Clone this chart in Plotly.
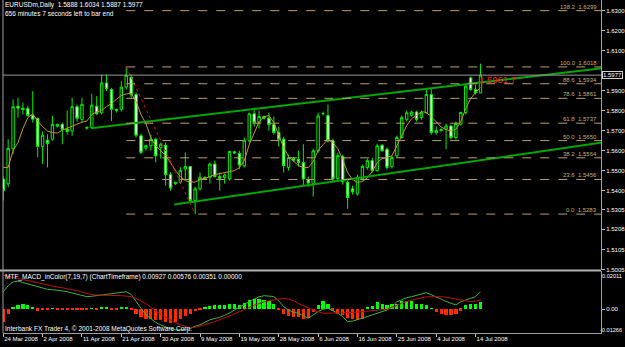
import plotly.graph_objects as go

W, H = 625, 347

dates = ["24 Mar 2008","25 Mar 2008","26 Mar 2008","27 Mar 2008","28 Mar 2008","30 Mar 2008","31 Mar 2008",
"1 Apr 2008","2 Apr 2008","3 Apr 2008","4 Apr 2008","6 Apr 2008","7 Apr 2008","8 Apr 2008","9 Apr 2008","10 Apr 2008",
"11 Apr 2008","13 Apr 2008","14 Apr 2008","15 Apr 2008","16 Apr 2008","17 Apr 2008","18 Apr 2008","20 Apr 2008",
"21 Apr 2008","22 Apr 2008","23 Apr 2008","24 Apr 2008","25 Apr 2008","27 Apr 2008","28 Apr 2008","29 Apr 2008",
"30 Apr 2008","1 May 2008","2 May 2008","4 May 2008","5 May 2008","6 May 2008","7 May 2008","8 May 2008",
"9 May 2008","11 May 2008","12 May 2008","13 May 2008","14 May 2008","15 May 2008","16 May 2008","18 May 2008",
"19 May 2008","20 May 2008","21 May 2008","22 May 2008","23 May 2008","25 May 2008","26 May 2008","27 May 2008",
"28 May 2008","29 May 2008","30 May 2008","1 Jun 2008","2 Jun 2008","3 Jun 2008","4 Jun 2008","5 Jun 2008",
"6 Jun 2008","8 Jun 2008","9 Jun 2008","10 Jun 2008","11 Jun 2008","12 Jun 2008","13 Jun 2008","15 Jun 2008",
"16 Jun 2008","17 Jun 2008","18 Jun 2008","19 Jun 2008","20 Jun 2008","22 Jun 2008","23 Jun 2008","24 Jun 2008",
"25 Jun 2008","26 Jun 2008","27 Jun 2008","29 Jun 2008","30 Jun 2008","1 Jul 2008","2 Jul 2008","3 Jul 2008",
"4 Jul 2008","6 Jul 2008","7 Jul 2008","8 Jul 2008","9 Jul 2008","10 Jul 2008","11 Jul 2008","13 Jul 2008",
"14 Jul 2008","15 Jul 2008"]

opens = [1.5458,1.5434,1.5611,1.5822,1.5812,1.5810,1.5775,1.5761,1.5621,1.5652,1.5657,1.5722,1.5731,1.5707,1.5698,1.5819,
1.5756,1.5712,1.5715,1.5822,1.5789,1.5938,1.5905,1.5800,1.5806,1.5917,1.5966,1.5880,1.5674,1.5612,1.5624,1.5657,
1.5615,1.5627,1.5480,1.5435,1.5442,1.5508,1.5521,1.5351,1.5409,1.5460,1.5467,1.5533,1.5470,1.5465,1.5458,1.5594,
1.5586,1.5524,1.5649,1.5784,1.5740,1.5770,1.5762,1.5730,1.5690,1.5657,1.5516,1.5560,1.5557,1.5541,1.5455,1.5434,
1.5599,1.5785,1.5775,1.5649,1.5460,1.5570,1.5442,1.5409,1.5384,1.5458,1.5516,1.5550,1.5500,1.5627,1.5607,1.5521,
1.5574,1.5665,1.5756,1.5776,1.5793,1.5765,1.5790,1.5880,1.5690,1.5700,1.5707,1.5723,1.5665,1.5732,1.5790,1.5963,
1.5905,1.5888]
highs = [1.5470,1.5657,1.5856,1.5864,1.5840,1.5825,1.5897,1.5765,1.5695,1.5682,1.5773,1.5735,1.5740,1.5801,1.5864,1.5830,
1.5864,1.5720,1.5884,1.5872,1.5980,1.5980,1.5912,1.5810,1.5947,1.6018,1.5980,1.5890,1.5685,1.5630,1.5680,1.5665,
1.5640,1.5640,1.5492,1.5445,1.5517,1.5591,1.5521,1.5420,1.5491,1.5470,1.5541,1.5550,1.5491,1.5485,1.5600,1.5598,
1.5600,1.5665,1.5790,1.5815,1.5800,1.5775,1.5790,1.5770,1.5720,1.5670,1.5580,1.5568,1.5600,1.5632,1.5470,1.5610,
1.5790,1.5795,1.5830,1.5660,1.5590,1.5580,1.5450,1.5425,1.5480,1.5530,1.5560,1.5565,1.5635,1.5632,1.5615,1.5575,
1.5675,1.5775,1.5800,1.5800,1.5800,1.5800,1.5905,1.5914,1.5720,1.5712,1.5735,1.5730,1.5745,1.5795,1.5935,1.5970,
1.5930,1.6034]
lows = [1.5351,1.5417,1.5582,1.5765,1.5780,1.5770,1.5740,1.5566,1.5533,1.5516,1.5650,1.5715,1.5632,1.5680,1.5674,1.5745,
1.5740,1.5705,1.5710,1.5778,1.5780,1.5897,1.5748,1.5790,1.5795,1.5905,1.5864,1.5665,1.5582,1.5600,1.5600,1.5541,
1.5560,1.5425,1.5400,1.5428,1.5433,1.5458,1.5343,1.5283,1.5400,1.5452,1.5435,1.5467,1.5400,1.5435,1.5450,1.5584,
1.5508,1.5516,1.5640,1.5720,1.5710,1.5755,1.5700,1.5680,1.5620,1.5490,1.5500,1.5545,1.5520,1.5425,1.5420,1.5370,
1.5590,1.5775,1.5640,1.5440,1.5450,1.5430,1.5309,1.5380,1.5375,1.5450,1.5505,1.5490,1.5495,1.5595,1.5505,1.5510,
1.5565,1.5660,1.5745,1.5770,1.5745,1.5755,1.5785,1.5680,1.5680,1.5695,1.5607,1.5655,1.5655,1.5725,1.5780,1.5900,
1.5880,1.5887]
closes = [1.5400,1.5611,1.5819,1.5812,1.5805,1.5775,1.5757,1.5621,1.5677,1.5635,1.5731,1.5731,1.5707,1.5695,1.5819,1.5761,
1.5831,1.5716,1.5827,1.5784,1.5938,1.5909,1.5806,1.5805,1.5917,1.5976,1.5880,1.5677,1.5591,1.5625,1.5657,1.5574,
1.5632,1.5480,1.5414,1.5442,1.5500,1.5520,1.5351,1.5409,1.5467,1.5467,1.5533,1.5470,1.5462,1.5478,1.5596,1.5588,
1.5528,1.5652,1.5784,1.5740,1.5770,1.5762,1.5730,1.5690,1.5657,1.5525,1.5566,1.5552,1.5541,1.5458,1.5438,1.5599,
1.5773,1.5785,1.5649,1.5459,1.5575,1.5445,1.5365,1.5395,1.5467,1.5521,1.5550,1.5500,1.5624,1.5599,1.5516,1.5566,
1.5665,1.5765,1.5789,1.5793,1.5756,1.5789,1.5880,1.5690,1.5700,1.5705,1.5723,1.5665,1.5735,1.5790,1.5922,1.5905,
1.5889,1.5977]
ma_vals = [1.5516,1.5516,1.5600,1.5640,1.5710,1.5765,1.5784,1.5748,1.5720,1.5698,1.5690,1.5688,1.5702,1.5712,1.5725,1.5735,
1.5742,1.5748,1.5780,1.5795,1.5800,1.5820,1.5835,1.5856,1.5875,1.5883,1.5886,1.5845,1.5780,1.5735,1.5665,1.5625,
1.5600,1.5575,1.5540,1.5500,1.5470,1.5450,1.5443,1.5443,1.5455,1.5462,1.5470,1.5480,1.5485,1.5490,1.5495,1.5500,
1.5515,1.5550,1.5630,1.5690,1.5745,1.5770,1.5775,1.5740,1.5680,1.5615,1.5570,1.5545,1.5525,1.5516,1.5515,1.5545,
1.5600,1.5630,1.5655,1.5640,1.5610,1.5555,1.5490,1.5455,1.5442,1.5445,1.5465,1.5495,1.5540,1.5560,1.5566,1.5574,
1.5624,1.5675,1.5725,1.5760,1.5775,1.5795,1.5790,1.5770,1.5742,1.5718,1.5705,1.5698,1.5707,1.5745,1.5810,1.5860,
1.5890,1.5915]

# MACD (values x 0.001)
macd_main = [9.3,12.5,14.5,15.0,14.2,13.4,12.6,11.8,11.0,10.6,10.4,10.2,9.8,9.3,8.6,7.9,7.3,6.7,6.9,7.3,7.6,8.0,8.5,8.8,9.1,9.3,7.9,4.5,0.5,-3.0,-5.2,-7.0,
-8.3,-9.5,-10.4,-10.9,-11.0,-10.9,-10.2,-9.0,-8.3,-6.9,-5.6,-4.9,-4.3,-3.2,-2.0,-0.35,1.2,2.8,4.3,5.5,6.6,7.2,7.0,6.7,4.5,1.4,
-0.5,-1.6,-2.1,-3.5,-4.8,-3.0,-1.2,0.0,0.5,-0.8,-2.1,-4.0,-6.5,-6.3,-5.6,-4.8,-3.9,-3.0,-2.2,-1.3,-0.4,1.5,4.0,
5.0,6.2,6.7,7.5,8.3,8.8,7.7,6.7,5.4,4.1,3.2,2.3,4.0,5.0,5.9,6.7,9.27]
macd_signal = [18.1,17.5,16.9,16.4,15.8,15.2,14.6,14.1,13.5,13.0,12.4,11.8,11.4,11.1,10.4,9.8,9.1,8.4,7.8,7.6,7.6,7.6,7.6,7.4,7.2,7.0,6.7,5.8,4.6,3.0,1.0,-1.0,
-2.6,-4.2,-5.9,-7.2,-8.3,-9.3,-9.9,-9.6,-9.0,-8.3,-7.5,-6.6,-5.6,-4.8,-3.6,-2.5,-1.3,-0.35,1.0,2.1,3.2,3.9,4.5,5.0,5.6,5.8,
5.3,4.6,3.0,1.8,0.8,-0.4,-1.3,-2.1,-2.1,-2.1,-2.1,-2.1,-2.0,-1.7,-1.5,-1.2,-1.0,-0.8,-0.6,-0.35,0.0,1.0,2.3,
3.2,4.1,4.9,5.5,6.1,6.6,6.7,6.7,6.7,6.4,5.9,5.4,4.9,4.4,4.05,4.3,4.9,5.76]
macd_hist = [-7.0,-2.6,0.5,1.8,2.6,2.1,0.9,-0.9,-0.5,-0.4,0.4,-0.3,-0.5,-0.6,-0.3,-0.6,-0.4,-0.5,0.3,-0.2,0.9,0.9,-0.3,-0.2,0.6,0.6,-0.8,-3.0,-4.5,-5.2,-5.5,-6.2,
-5.8,-6.8,-7.4,-6.8,-5.5,-4.0,-2.6,-1.2,-0.5,0.5,1.5,2.2,2.0,1.8,2.4,2.6,2.1,3.2,4.6,5.3,5.3,4.8,4.4,2.8,-0.8,-2.6,
-3.9,-4.4,-4.6,-5.3,-4.8,-1.8,2.0,4.4,2.6,-0.9,-2.6,-3.5,-5.0,-5.6,-6.1,-5.3,1.0,1.5,3.4,2.6,2.3,2.6,2.6,
4.2,4.4,4.2,2.6,2.4,2.2,0.4,-1.5,-2.6,-3.2,-3.5,-2.6,-0.9,2.2,2.6,2.8,3.51]

fib_pct = ["0.0","23.6","38.2","50.0","61.8","78.6","88.6","100.0","138.2"]
fib_price = [1.5283,1.5456,1.5564,1.5650,1.5737,1.5861,1.5934,1.6018,1.6299]
fib_start = 25  # bar index of the swing high

price_ticks = [1.6300,1.6200,1.6100,1.5900,1.5800,1.5700,1.5600,1.5500,1.5400,1.5305,1.5208,1.5105,1.5005]
bid = 1.5977
red_label = "1.5961.7"

# channel lines (bar index, price)
upper_chan = [(17.85,1.5712),(121.7,1.6012)]
lower_chan = [(34.75,1.5331),(121.7,1.5640)]
fib_diag = [(25,1.6018),(39,1.5283)]

n = len(dates)
x = list(range(n))

FONT = "Liberation Sans"
XD = [3/W, 602/W]
XR = [-0.05, 121.5]
Y1D = [1-272/H, 1]
Y2D = [1-335/H, 1-273/H]

fig = go.Figure()
fig.add_trace(go.Candlestick(
    x=x, open=opens, high=highs, low=lows, close=closes,
    increasing=dict(line=dict(color="#00f000", width=1), fillcolor="#000000"),
    decreasing=dict(line=dict(color="#00f000", width=1), fillcolor="#ffffff"),
    whiskerwidth=0, xaxis="x", yaxis="y", showlegend=False, hoverinfo="skip"))
fig.add_trace(go.Scatter(x=x, y=ma_vals, mode="lines", line=dict(color="#c89628", width=1),
                         xaxis="x", yaxis="y", showlegend=False, hoverinfo="skip"))
# channel + fib diagonal
for pts, col, dash, wd in [(upper_chan, "#00a800", "solid", 2), (lower_chan, "#00a800", "solid", 2),
                           (fib_diag, "#d01010", "dot", 1)]:
    fig.add_trace(go.Scatter(x=[p[0] for p in pts], y=[p[1] for p in pts], mode="lines",
                             line=dict(color=col, width=wd, dash=dash),
                             xaxis="x", yaxis="y", showlegend=False, hoverinfo="skip"))
# fib levels
for pct, pr in zip(fib_pct, fib_price):
    fig.add_trace(go.Scatter(x=[fib_start, XR[1]], y=[pr, pr], mode="lines",
                             line=dict(color="#b8a070", width=1, dash="dash"),
                             xaxis="x", yaxis="y", showlegend=False, hoverinfo="skip"))
    fig.add_annotation(x=XR[1], xref="x", y=pr, yref="y", text=f"{pct}  {pr:.4f}",
                       xanchor="right", yanchor="bottom", showarrow=False,
                       font=dict(family=FONT, size=6, color="#c8b078"), xshift=-2, yshift=-1)
# bid line
fig.add_trace(go.Scatter(x=[XR[0], XR[1]], y=[bid, bid], mode="lines",
                         line=dict(color="#9a9a9a", width=1),
                         xaxis="x", yaxis="y", showlegend=False, hoverinfo="skip"))
# red object label
fig.add_annotation(x=96.3, xref="x", y=1.5953, yref="y", text=red_label, xanchor="left", yanchor="middle",
                   showarrow=False, font=dict(family=FONT, size=9.5, color="#ff1a1a"))

# MACD
hist_vals = [v/1000 for v in macd_hist]
fig.add_trace(go.Bar(x=x, y=hist_vals, width=0.65,
                     marker=dict(color=["#00ff00" if v > 0 else "#ff2a00" for v in macd_hist], line=dict(width=0)),
                     xaxis="x2", yaxis="y2", showlegend=False, hoverinfo="skip"))
fig.add_trace(go.Scatter(x=x, y=[v/1000 for v in macd_main], mode="lines", line=dict(color="#3cb43c", width=1),
                         xaxis="x2", yaxis="y2", showlegend=False, hoverinfo="skip"))
fig.add_trace(go.Scatter(x=x, y=[v/1000 for v in macd_signal], mode="lines", line=dict(color="#c01010", width=1),
                         xaxis="x2", yaxis="y2", showlegend=False, hoverinfo="skip"))

tick_idx = list(range(0, n, 8))
axis_font = dict(family=FONT, size=6, color="#ffffff")
fig.update_layout(
    width=W, height=H, margin=dict(l=0, r=0, t=0, b=0),
    paper_bgcolor="#000000", plot_bgcolor="#000000", bargap=0,
    xaxis=dict(domain=XD, range=XR, showticklabels=False, showgrid=False, zeroline=False,
               rangeslider=dict(visible=False), anchor="y", fixedrange=True),
    xaxis2=dict(domain=XD, range=XR, showgrid=False, zeroline=False, anchor="y2",
                tickvals=tick_idx, ticktext=[dates[i] for i in tick_idx], ticks="outside", ticklen=3,
                tickangle=0, tickcolor="#c0c0c0", tickfont=axis_font, ticklabelposition="outside right",
                showline=True, linecolor="#a0a0a0", linewidth=1),
    yaxis=dict(domain=Y1D, range=[1.50016, 1.63522], side="right", anchor="x", showgrid=False, zeroline=False,
               tickvals=price_ticks, ticktext=[f"{v:.4f}" for v in price_ticks], ticks="outside", ticklen=3,
               tickcolor="#c0c0c0", tickfont=axis_font, showline=True, linecolor="#a0a0a0", linewidth=1),
    yaxis2=dict(domain=Y2D, range=[-0.01266, 0.02011], side="right", anchor="x2", showgrid=False, zeroline=False,
                tickvals=[0.0], ticktext=["0.00"], ticks="outside", ticklen=3,
                tickcolor="#c0c0c0", tickfont=axis_font, showline=True, linecolor="#a0a0a0", linewidth=1),
)
# MACD extreme labels
for val, yp in [("0.02011", 278), ("-0.01266", 332)]:
    fig.add_annotation(x=1, xref="paper", y=1-yp/H, yref="paper", text=val, xanchor="right", yanchor="middle",
                       showarrow=False, font=dict(family=FONT, size=5.6, color="#ffffff"))
# bid label
fig.add_annotation(x=603/W, xref="paper", y=bid, yref="y", text="1.5977", xanchor="left", yanchor="middle",
                   showarrow=False, font=dict(family=FONT, size=6, color="#ffffff"),
                   bgcolor="#000000", bordercolor="#d0d0d0", borderwidth=1, borderpad=0)
# separators / borders
fig.add_shape(type="line", xref="paper", yref="paper", x0=0, x1=602/W, y0=1-272/H, y1=1-272/H,
              line=dict(color="#b0b0b0", width=2))
fig.add_shape(type="line", xref="paper", yref="paper", x0=3/W, x1=3/W, y0=1-335/H, y1=1,
              line=dict(color="#a0a0a0", width=1))
# texts
txt = dict(family=FONT, size=6.5, color="#ffffff")
fig.add_annotation(x=3/W, xref="paper", y=1-5/H, yref="paper", text="EURUSDm,Daily  1.5888 1.6034 1.5887 1.5977",
                   xanchor="left", yanchor="middle", showarrow=False, font=txt)
fig.add_annotation(x=3/W, xref="paper", y=1-14/H, yref="paper", text="656 minutes 7 seconds left to bar end",
                   xanchor="left", yanchor="middle", showarrow=False, font=txt)
fig.add_annotation(x=3/W, xref="paper", y=1-279/H, yref="paper",
                   text="MTF_MACD_inColor(7,19,7) (ChartTimeframe) 0.00927 0.00576 0.00351 0.00000",
                   xanchor="left", yanchor="middle", showarrow=False, font=txt)
fig.add_annotation(x=3/W, xref="paper", y=1-331/H, yref="paper",
                   text="Interbank FX Trader 4, © 2001-2008 MetaQuotes Software Corp.",
                   xanchor="left", yanchor="middle", showarrow=False, font=txt)
fig.write_html("out.html")
